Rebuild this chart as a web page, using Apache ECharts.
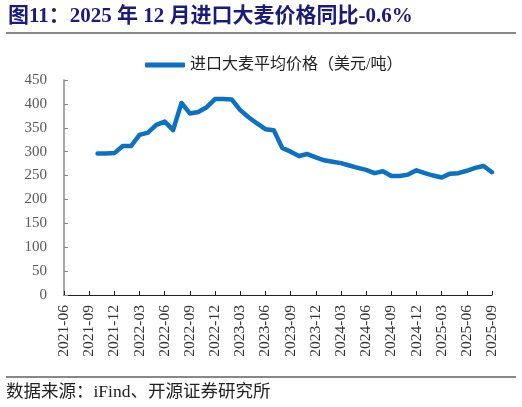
<!DOCTYPE html>
<html>
<head>
<meta charset="utf-8">
<script src="https://cdn.jsdelivr.net/npm/echarts@6/dist/echarts.min.js"></script>
<style>
  html, body { margin: 0; padding: 0; background: #fff; }
  #main { width: 522px; height: 407px; }
</style>
</head>
<body>
<div id="main"></div>
<script>
// monthly categories shown on the x axis
const months = [
  '2021-06', '2021-07', '2021-08', '2021-09', '2021-10', '2021-11', '2021-12',
  '2022-01', '2022-02', '2022-03', '2022-04', '2022-05', '2022-06', '2022-07',
  '2022-08', '2022-09', '2022-10', '2022-11', '2022-12', '2023-01', '2023-02',
  '2023-03', '2023-04', '2023-05', '2023-06', '2023-07', '2023-08', '2023-09',
  '2023-10', '2023-11', '2023-12', '2024-01', '2024-02', '2024-03', '2024-04',
  '2024-05', '2024-06', '2024-07', '2024-08', '2024-09', '2024-10', '2024-11',
  '2024-12', '2025-01', '2025-02', '2025-03', '2025-04', '2025-05', '2025-06',
  '2025-07', '2025-08', '2025-09'
];

// 进口大麦平均价格 (美元/吨), no data before 2021-10
const barleyPrice = [
  null, null, null, null,
  296, 296, 297, 312, 312, 335, 340, 356, 363, 345,
  402, 380, 383, 393, 410, 410, 409, 387, 372, 359,
  347, 345, 308, 300, 291, 295, 288, 282, 279, 276,
  271, 266, 262, 255, 259, 249, 249, 252, 261, 255,
  250, 246, 254, 255, 260, 266, 270, 257
];

const seriesName = '进口大麦平均价格（美元/吨）';
const titleText = '图11：2025 年 12 月进口大麦价格同比-0.6%';
const sourceText = '数据来源：iFind、开源证券研究所';

const serif = '"Times New Roman", "Liberation Serif", "Noto Sans CJK SC", serif';
const lineColor = '#0a71c3';

var myChart = echarts.init(document.getElementById('main'), null, { renderer: 'canvas' });

var option = {
  animation: false,
  backgroundColor: '#fff',
  grid: { left: 64, right: 30, top: 80, bottom: 112, containLabel: false },
  legend: {
    left: 140,
    top: 52,
    icon: 'roundRect',
    itemWidth: 40,
    itemHeight: 5,
    textStyle: { fontFamily: serif, fontSize: 16, color: '#222' },
    data: [seriesName]
  },
  xAxis: {
    type: 'category',
    data: months,
    boundaryGap: false,
    axisLine: { lineStyle: { color: '#222', width: 1 } },
    axisTick: { inside: true, length: 4, interval: 2, lineStyle: { color: '#222' } },
    axisLabel: {
      interval: 2,
      rotate: 90,
      margin: 10,
      fontFamily: serif,
      fontSize: 15.5,
      color: '#333'
    },
    splitLine: { show: false }
  },
  yAxis: {
    type: 'value',
    min: 0,
    max: 450,
    interval: 50,
    axisLine: { show: true, lineStyle: { color: '#888', width: 1.5 } },
    axisTick: { show: true, inside: true, length: 4, lineStyle: { color: '#888' } },
    axisLabel: { margin: 17, fontFamily: serif, fontSize: 15, color: '#595959' },
    splitLine: { show: false }
  },
  series: [
    {
      name: seriesName,
      type: 'line',
      data: barleyPrice,
      showSymbol: false,
      symbol: 'none',
      connectNulls: false,
      lineStyle: { color: lineColor, width: 4.5, cap: 'round', join: 'round' },
      itemStyle: { color: lineColor }
    }
  ],
  graphic: [
    {
      type: 'text',
      left: 8,
      top: 6,
      style: {
        text: titleText,
        fontFamily: serif,
        fontSize: 21,
        fontWeight: 'bold',
        fill: '#1b1b7c'
      }
    },
    {
      type: 'line',
      shape: { x1: 6, y1: 33, x2: 516, y2: 33 },
      style: { stroke: '#111', lineWidth: 1 }
    },
    {
      type: 'line',
      shape: { x1: 6, y1: 377, x2: 516, y2: 377 },
      style: { stroke: '#111', lineWidth: 1 }
    },
    {
      type: 'text',
      left: 6,
      top: 384,
      style: {
        text: sourceText,
        fontFamily: serif,
        fontSize: 17.5,
        fill: '#222'
      }
    }
  ]
};

myChart.setOption(option);
</script>
</body>
</html>
